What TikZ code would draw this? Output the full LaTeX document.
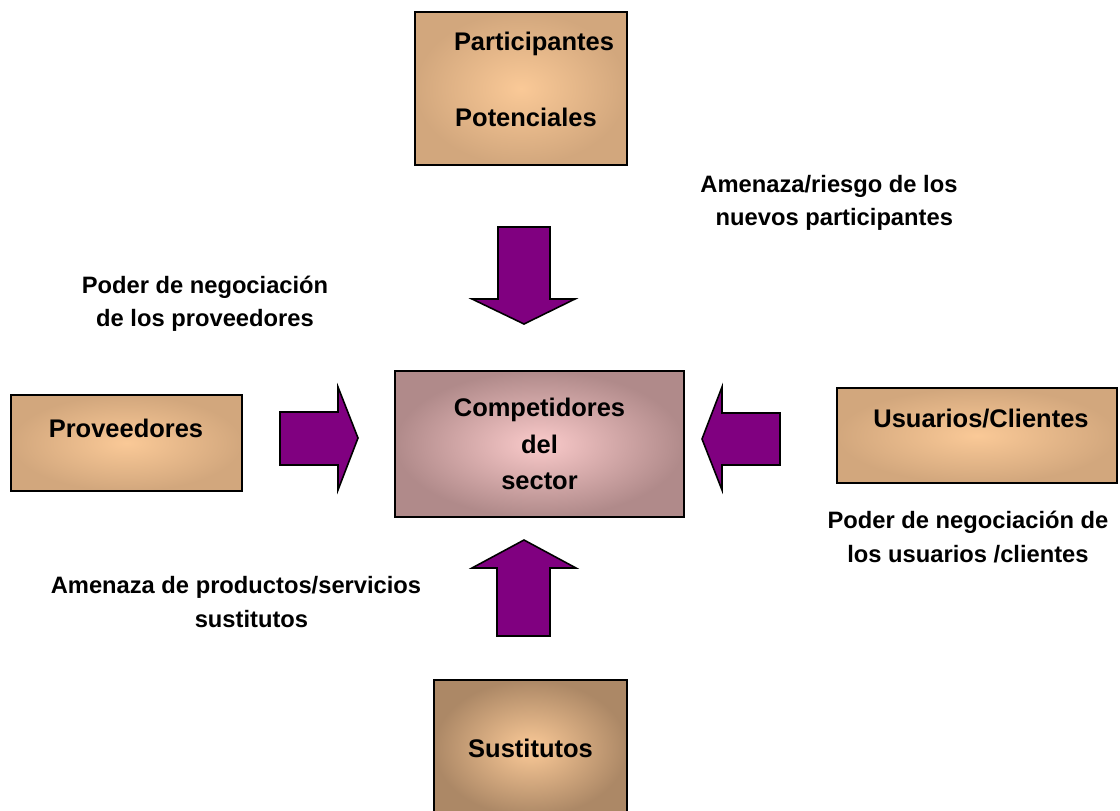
\documentclass[tikz,border=0pt]{standalone}
\usepackage{fontspec}
\setmainfont{Liberation Sans}
\definecolor{tanedge}{RGB}{210,167,125}
\definecolor{tancenter}{RGB}{250,201,151}
\definecolor{tandark}{RGB}{172,136,102}
\definecolor{pinkcenter}{RGB}{250,202,202}
\definecolor{pinkedge}{RGB}{176,138,138}
\definecolor{forcepurple}{RGB}{128,0,128}
\tikzset{
	forcebox/.style={draw, line width=1.1pt, inner sep=0pt, align=center,
		inner color=tancenter, outer color=tanedge,
		font=\bfseries\fontsize{14.5}{20.7}\selectfont},
	forcetext/.style={align=center, inner sep=0pt,
		font=\bfseries\fontsize{13.5}{19}\selectfont},
	boxtext/.style={inner sep=0pt, font=\bfseries\fontsize{14.5}{20}\selectfont},
	forcearrow/.style={draw, line width=0.9pt, fill=forcepurple, line join=miter}
}
\begin{document}
\begin{tikzpicture}[x=0.02cm, y=-0.02cm]
			\useasboundingbox (0,0) rectangle (1120,811);
			%boxes
			\node[forcebox, minimum width=4.24cm, minimum height=3.06cm] (part) at (521,88.5){};
			\node[boxtext] (partA) at (534,44){Participantes};
			\node[boxtext] (partB) at (526,117){Potenciales};
			\node[forcebox, minimum width=4.62cm, minimum height=1.92cm] (prov) at (126.5,443){};
			\node[boxtext] (provT) at (126,428){Proveedores};
			\node[forcebox, minimum width=5.78cm, minimum height=2.92cm,
				inner color=pinkcenter, outer color=pinkedge] (comp) at (539.5,444){Competidores\\del\\sector};
			\node[forcebox, minimum width=5.6cm, minimum height=1.9cm] (usu) at (977,435.5){};
			\node[boxtext] (usuT) at (981,419){Usuarios/Clientes};
			\node[forcebox, minimum width=3.86cm, minimum height=2.72cm,
				outer color=tandark] (sus) at (530.5,748){Sustitutos};
			
			%labels
			\node[forcetext] (newL) at (829,203){Amenaza/riesgo de los\\\hspace*{0.45em}nuevos participantes};
			\node[forcetext] (provL) at (205,304){Poder de negociación\\de los proveedores};
			\node[forcetext] (usuL) at (968,537){Poder de negociación de\\los usuarios /clientes};
			\node[forcetext] (susL) at (236,602){Amenaza de productos/servicios\\\hspace*{1.3em}sustitutos};
			
			%arrows
			\draw[forcearrow] (498,227) -- (550,227) -- (550,299) -- (575,299) -- (524,324) -- (472,299) -- (498,299) -- cycle;
			\draw[forcearrow] (280,412) -- (338,412) -- (338,387) -- (358,438) -- (338,490) -- (338,465) -- (280,465) -- cycle;
			\draw[forcearrow] (780,413) -- (722,413) -- (722,387) -- (702,439) -- (722,490) -- (722,465) -- (780,465) -- cycle;
			\draw[forcearrow] (497,636) -- (550,636) -- (550,568) -- (576,568) -- (524,540) -- (472,568) -- (497,568) -- cycle;
\end{tikzpicture}
\end{document}
